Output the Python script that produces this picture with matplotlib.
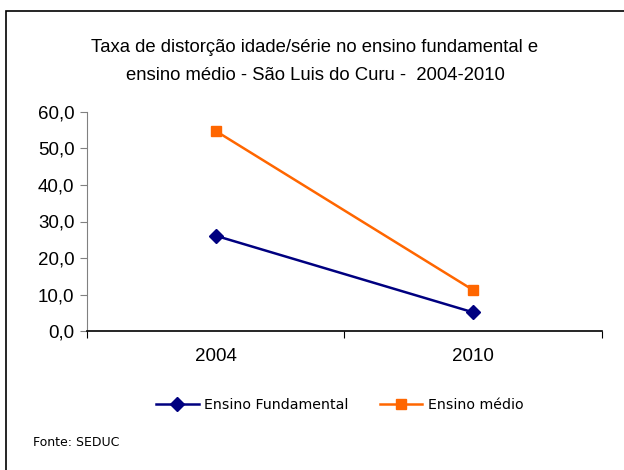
import matplotlib
matplotlib.use("Agg")
import matplotlib.pyplot as plt
from matplotlib.patches import Rectangle

years = ["2004", "2010"]
fundamental = [26.1, 5.1]
medio = [54.8, 11.2]
yticks = [0, 10, 20, 30, 40, 50, 60]
ytick_labels = ["0,0", "10,0", "20,0", "30,0", "40,0", "50,0", "60,0"]

W, H = 624, 470
fig = plt.figure(figsize=(W/100, H/100), dpi=100)
fig.patch.set_facecolor("white")

# outer frame
fig.add_artist(Rectangle((6/W, -0.1), 1.2, (H-11)/H + 0.1, transform=fig.transFigure,
                         fill=False, edgecolor="black", linewidth=1.2))

ax = fig.add_axes([87/W, 1-331/H, (602-87)/W, (331-112)/H])
x = list(range(len(years)))
ax.plot(x, fundamental, color="#000080", marker="D", markersize=7.5, linewidth=1.8,
        label="Ensino Fundamental", clip_on=False)
ax.plot(x, medio, color="#FF6600", marker="s", markersize=7.5, linewidth=1.8,
        label="Ensino médio", clip_on=False)

ax.set_xlim(-0.5, len(years) - 0.5)
ax.set_ylim(0, 60)
for s in ["top", "right"]:
    ax.spines[s].set_visible(False)
ax.spines["left"].set_color("#808080")
ax.spines["bottom"].set_color("black")
ax.spines["bottom"].set_linewidth(1.2)

ax.set_yticks(yticks)
ax.set_yticklabels(ytick_labels, fontsize=13.5, family="Liberation Sans")
ax.tick_params(axis="y", length=5, color="#808080", pad=4)

ax.set_xticks([i - 0.5 for i in range(len(years) + 1)])
ax.set_xticklabels([])
ax.set_xticks(x, minor=True)
ax.set_xticklabels(years, minor=True, fontsize=13.5, family="Liberation Sans")
ax.tick_params(axis="x", which="major", length=5, color="black")
ax.tick_params(axis="x", which="minor", length=0, pad=12)

fig.text(315/W, 1-48/H, "Taxa de distorção idade/série no ensino fundamental e",
         ha="center", va="center", fontsize=13.3, family="Liberation Sans")
fig.text(315/W, 1-75/H, "ensino médio - São Luis do Curu -  2004-2010",
         ha="center", va="center", fontsize=13.3, family="Liberation Sans")

leg = fig.legend(loc="center", bbox_to_anchor=(340/W, 1-405/H), ncol=2, frameon=False,
                 prop={"family": "DejaVu Sans", "size": 10.2}, handlelength=3,
                 columnspacing=2.2, handletextpad=0.4)

fig.text(33/W, 1-442/H, "Fonte: SEDUC", ha="left", va="center", fontsize=9,
         family="DejaVu Sans")

fig.savefig("out.png", dpi=100)
